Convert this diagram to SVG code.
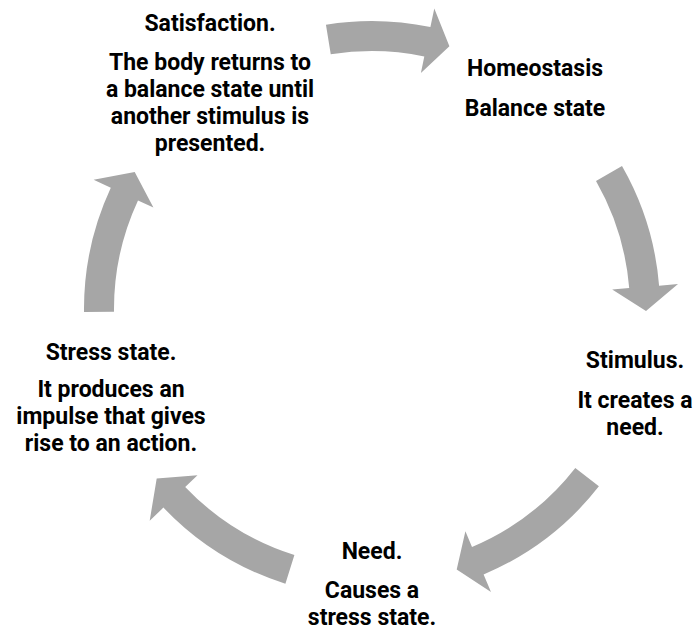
<svg xmlns="http://www.w3.org/2000/svg" width="697" height="631" viewBox="0 0 697 631">
<style>
.arrow{fill:#a6a6a6;stroke:none;}
text{font-family:Roboto,"Liberation Sans",sans-serif;font-weight:bold;font-size:23px;fill:#000;text-anchor:middle;}
</style>
<rect width="697" height="631" fill="#fff"/>
<g id="connectors">
<path class="arrow" d="M 330.75,54.3 A 258 258 0 0 1 424.3,56.4 L 420.9,73.0 L 449.4,46.2 L 434.3,8.4 L 430.4,27.0 A 288 288 0 0 0 325.95,24.7 Z"/>
<path class="arrow" d="M 596.0,181.0 A 258 258 0 0 1 629.2,288.1 L 612.2,289.5 L 646.0,310.9 L 678.0,284.1 L 659.1,285.7 A 288 288 0 0 0 622.0,166.1 Z"/>
<path class="arrow" d="M 575.3,467.9 A 258 258 0 0 1 472.0,546.9 L 465.4,531.2 L 456.7,569.6 L 491.0,592.0 L 483.6,574.5 A 288 288 0 0 0 598.9,486.3 Z"/>
<path class="arrow" d="M 294.4,555.1 A 258 258 0 0 1 185.2,486.9 L 197.5,475.2 L 156.7,478.4 L 149.7,520.7 L 163.4,507.6 A 288 288 0 0 0 285.4,583.7 Z"/>
<path class="arrow" d="M 114.0,311.7 A 258 258 0 0 1 138.0,200.4 L 153.4,207.5 L 134.7,172 L 93.6,179.8 L 110.8,187.8 A 288 288 0 0 0 84.0,312.0 Z"/>
</g>
<g id="satisfaction">
<text x="210" y="31">Satisfaction.</text>
<text x="210" y="70">The body returns to</text>
<text x="210" y="97">a balance state until</text>
<text x="210" y="124">another stimulus is</text>
<text x="210" y="151">presented.</text>
</g>
<g id="homeostasis">
<text x="535" y="76">Homeostasis</text>
<text x="535" y="116">Balance state</text>
</g>
<g id="stimulus">
<text x="635" y="368">Stimulus.</text>
<text x="635" y="408">It creates a</text>
<text x="635" y="435">need.</text>
</g>
<g id="need">
<text x="372" y="559">Need.</text>
<text x="372" y="598">Causes a</text>
<text x="372" y="625">stress state.</text>
</g>
<g id="stress">
<text x="111" y="360">Stress state.</text>
<text x="111" y="397">It produces an</text>
<text x="111" y="424">impulse that gives</text>
<text x="111" y="451">rise to an action.</text>
</g>
</svg>
